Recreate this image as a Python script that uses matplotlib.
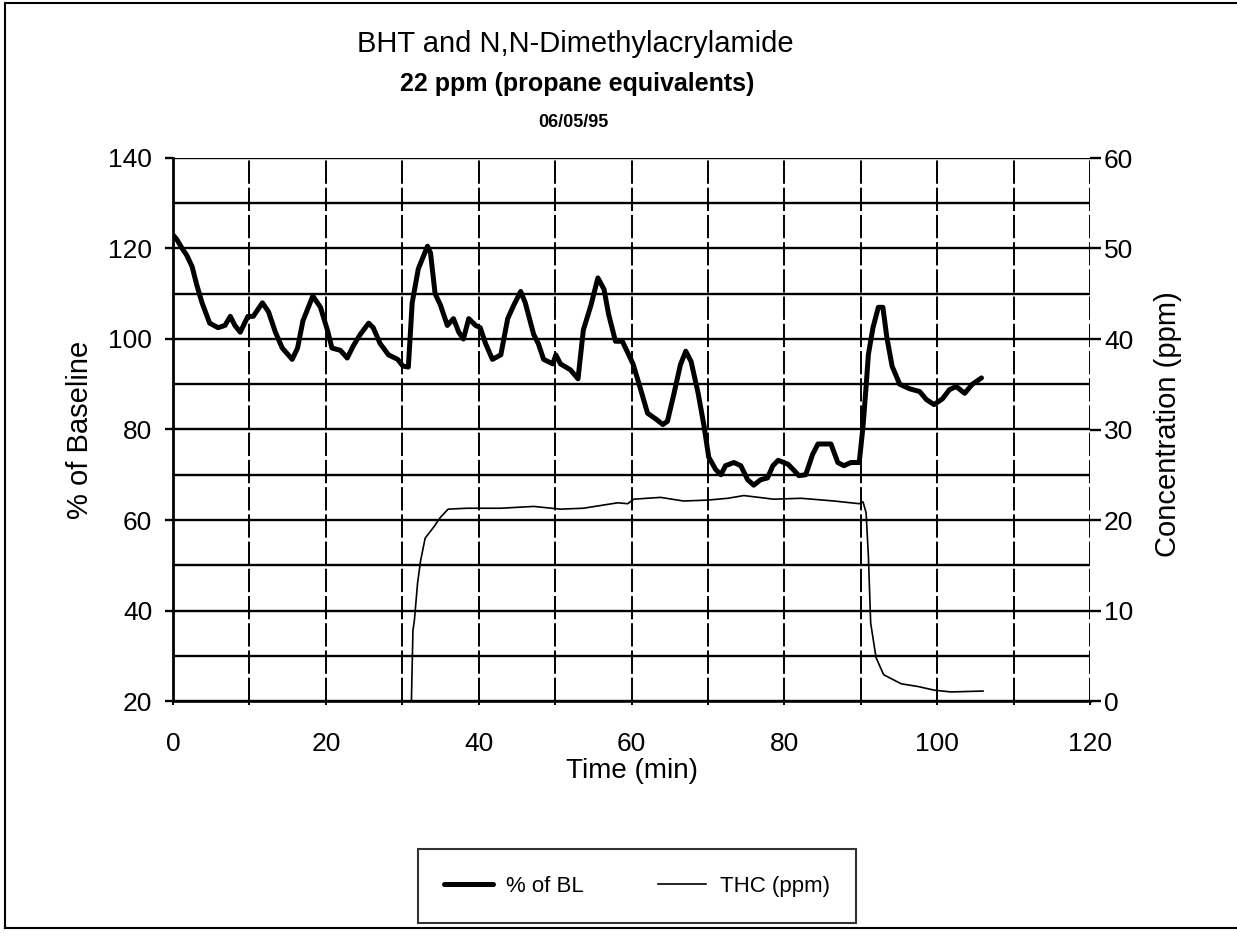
import matplotlib
matplotlib.use("Agg")
import matplotlib.pyplot as plt
from matplotlib.lines import Line2D
from matplotlib.ticker import MultipleLocator

plt.rcParams['font.family'] = ['Liberation Sans', 'DejaVu Sans']

# % of baseline response over time
bl_time = [0.0, 0.5, 1.2, 1.8, 2.5, 3.1, 3.8, 4.8, 5.9, 6.8, 7.5, 8.1, 8.8, 9.8, 10.5,
           11.7, 12.5, 13.4, 14.3, 15.6, 16.3, 17.0, 18.3, 19.3, 20.2, 20.8, 21.9, 22.8,
           23.6, 24.5, 25.6, 26.2, 27.1, 28.2, 29.4, 30.1, 30.8, 31.3, 32.1, 33.3, 33.7,
           34.3, 35.0, 35.9, 36.7, 37.4, 38.0, 38.7, 39.6, 40.2, 40.9, 41.8, 42.9, 43.8,
           44.6, 45.5, 46.1, 47.2, 47.8, 48.5, 49.7, 50.1, 50.7, 52.0, 53.0, 53.7, 54.7,
           55.6, 56.4, 57.0, 57.9, 58.8, 60.2, 61.0, 62.1, 63.2, 64.1, 64.7, 65.5, 66.4,
           67.1, 67.8, 68.7, 69.5, 70.1, 71.0, 71.7, 72.3, 73.4, 74.3, 75.2, 76.0, 76.9,
           77.8, 78.5, 79.2, 80.5, 81.3, 81.9, 82.8, 83.7, 84.4, 86.1, 87.0, 87.8, 88.7,
           89.8, 90.3, 90.7, 91.0, 91.6, 92.3, 92.9, 93.4, 94.1, 95.1, 96.4, 97.7, 98.6,
           99.6, 100.7, 101.6, 102.5, 103.6, 104.6, 105.8]
bl_pct = [123.0, 122.0, 120.0, 118.5, 116.0, 112.0, 108.0, 103.5, 102.5, 103.0, 105.0,
          103.0, 101.5, 105.0, 105.0, 108.0, 106.0, 101.5, 98.0, 95.5, 98.0, 104.0, 109.5,
          107.0, 102.0, 98.0, 97.5, 95.8, 98.5, 101.0, 103.5, 102.5, 99.0, 96.5, 95.5,
          94.0, 93.8, 108.0, 115.5, 120.5, 119.0, 110.0, 107.5, 103.0, 104.5, 101.5, 100.0,
          104.5, 103.0, 102.5, 99.0, 95.5, 96.5, 104.5, 107.5, 110.5, 108.0, 101.0, 99.0,
          95.5, 94.5, 96.5, 94.5, 93.2, 91.2, 102.0, 107.5, 113.5, 111.0, 105.5, 99.5,
          99.5, 94.5, 90.0, 83.6, 82.3, 81.1, 81.8, 87.5, 94.3, 97.3, 95.0, 88.2, 80.7,
          73.9, 71.2, 70.0, 72.0, 72.7, 72.0, 68.9, 67.7, 68.9, 69.3, 72.0, 73.2, 72.3,
          70.9, 69.8, 70.0, 74.5, 76.8, 76.8, 72.7, 72.0, 72.7, 72.7, 80.7, 89.5, 96.6,
          102.5, 107.0, 107.0, 100.5, 94.0, 90.0, 89.0, 88.4, 86.6, 85.5, 86.8, 88.8,
          89.5, 88.0, 90.0, 91.4]

# total hydrocarbon concentration (ppm)
thc_time = [31.2, 31.4, 31.6, 32.0, 32.4, 33.0, 34.1, 35.0, 36.0, 38.5, 42.9, 47.2,
            50.7, 53.7, 58.2, 59.5, 60.3, 63.8, 66.8, 70.0, 72.6, 74.7, 78.6, 82.2,
            86.5, 89.8, 90.3, 90.7, 91.0, 91.3, 92.0, 93.0, 95.3, 97.5, 99.6, 101.8, 106.0]
thc_ppm = [0.0, 7.8, 9.0, 13.0, 15.5, 18.0, 19.2, 20.3, 21.2, 21.3, 21.3, 21.5, 21.2,
           21.3, 21.9, 21.8, 22.3, 22.5, 22.1, 22.2, 22.4, 22.7, 22.3, 22.4, 22.1, 21.8,
           22.0, 20.8, 16.0, 8.6, 4.8, 2.9, 1.9, 1.6, 1.2, 1.0, 1.1]

W, H = 1237, 938
fig = plt.figure(figsize=(W / 100, H / 100), dpi=100)
ax = fig.add_axes([173 / W, 1 - 701 / H, (1090 - 173) / W, (701 - 158) / H])
ax2 = ax.twinx()

ax.set_xlim(0, 120)
ax.set_ylim(20, 140)
ax2.set_ylim(0, 60)

ax.xaxis.set_major_locator(MultipleLocator(20))
ax.xaxis.set_minor_locator(MultipleLocator(10))
ax.yaxis.set_major_locator(MultipleLocator(20))
ax.yaxis.set_minor_locator(MultipleLocator(10))
ax2.yaxis.set_major_locator(MultipleLocator(10))

ax.yaxis.grid(True, which='both', color='black', lw=1.7)
ax.xaxis.grid(True, which='both', color='black', lw=1.4, ls=(0, (12, 2)))
ax.set_axisbelow(True)

for side in ('top', 'right'):
    ax.spines[side].set_visible(False)
    ax2.spines[side].set_visible(False)
ax2.spines['left'].set_visible(False)
ax2.spines['bottom'].set_visible(False)
ax.spines['left'].set_linewidth(2.0)
ax.spines['bottom'].set_linewidth(1.9)

ax.tick_params(axis='y', which='major', direction='out', length=6, width=1.7,
               labelsize=19, pad=9)
ax.tick_params(axis='y', which='minor', length=0)
ax.tick_params(axis='x', which='both', direction='out', length=3, width=1.4,
               labelsize=19, pad=19)
ax2.tick_params(axis='y', which='major', direction='out', length=8, width=1.7,
                labelsize=19, pad=2)

bl_line, = ax.plot(bl_time, bl_pct, color='black', lw=3.6, solid_joinstyle='round',
                   solid_capstyle='round', label='% of BL', zorder=5)
thc_line, = ax2.plot(thc_time, thc_ppm, color='black', lw=1.2, label='THC (ppm)',
                     zorder=5)

ax.set_xlabel('Time (min)', fontsize=20, labelpad=2)
ax.set_ylabel('% of Baseline', fontsize=21, labelpad=10)
ax2.set_ylabel('Concentration (ppm)', fontsize=21, labelpad=12)
ax2.yaxis.set_label_coords(1.07, 0.51)

fig.text(575 / W, 1 - 44 / H, 'BHT and N,N-Dimethylacrylamide', ha='center',
         va='center', fontsize=21)
fig.text(577 / W, 1 - 84 / H, '22 ppm (propane equivalents)', ha='center',
         va='center', fontsize=18, fontweight='bold')
fig.text(573 / W, 1 - 122 / H, '06/05/95', ha='center', va='center', fontsize=13,
         fontweight='bold')

leg = fig.legend(handles=[bl_line, thc_line], loc='center',
                 bbox_to_anchor=(637 / W, 1 - 886 / H), ncol=2, fontsize=16,
                 frameon=True, fancybox=False, edgecolor='black',
                 handlelength=2.2, columnspacing=3.3, borderpad=1.2,
                 handletextpad=0.6, borderaxespad=0.0)
leg.get_frame().set_linewidth(1.5)

# page border
border = dict(color='black', lw=1.5, transform=fig.transFigure)
fig.add_artist(Line2D([5 / W, 5 / W], [1 - 3 / H, 1 - 928 / H], **border))
fig.add_artist(Line2D([5 / W, 1.0], [1 - 3 / H, 1 - 3 / H], **border))
fig.add_artist(Line2D([5 / W, 1.0], [1 - 928 / H, 1 - 928 / H], **border))

fig.savefig('out.png', dpi=100)
